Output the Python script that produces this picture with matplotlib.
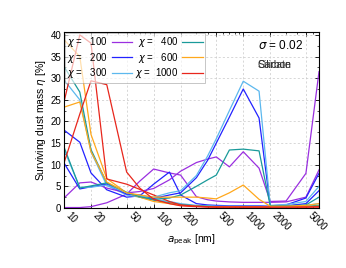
import matplotlib
matplotlib.use('Agg')
import matplotlib.pyplot as plt
from matplotlib.ticker import AutoMinorLocator, FixedLocator, NullFormatter

# grain peak radius [nm]
a_peak = [10, 15, 20, 30, 50, 70, 100, 150, 200, 300, 400, 500, 700, 1000, 1500, 2000, 3000, 5000, 7000]

chi_values = [100, 200, 300, 400, 600, 1000]
colors = ['#9a2fe0', '#2222ff', '#5cb8ee', '#1a9a9a', '#ffa81c', '#e8261c']

# surviving dust mass eta [%], first set
eta_a = [
    [0.1, 0.1, 0.3, 1.2, 3.2, 6.2, 9.0, 8.1, 7.6, 2.6, 1.9, 1.6, 1.4, 1.3, 1.3, 1.3, 1.4, 2.5, 8.8],
    [18.0, 15.2, 8.1, 4.2, 2.5, 2.8, 5.5, 8.3, 3.0, 1.0, 0.7, 0.6, 0.5, 0.5, 0.5, 0.4, 0.5, 1.0, 4.0],
    [29.6, 25.0, 13.0, 5.2, 3.0, 2.5, 2.0, 1.5, 1.0, 0.6, 0.5, 0.4, 0.4, 0.4, 0.4, 0.3, 0.4, 0.6, 1.0],
    [32.7, 26.8, 13.5, 5.8, 3.5, 2.5, 1.8, 1.2, 0.8, 0.5, 0.4, 0.3, 0.3, 0.3, 0.3, 0.3, 0.3, 0.4, 0.6],
    [38.9, 35.0, 17.0, 6.8, 3.5, 2.5, 1.5, 1.0, 0.6, 0.4, 0.3, 0.3, 0.3, 0.3, 0.3, 0.3, 0.3, 0.3, 0.4],
    [24.5, 40.0, 38.1, 6.7, 5.5, 4.3, 3.0, 1.5, 0.7, 0.4, 0.3, 0.2, 0.2, 0.2, 0.2, 0.2, 0.2, 0.2, 0.3],
]

# second set
eta_b = [
    [2.3, 5.8, 6.0, 4.6, 3.5, 3.8, 4.5, 6.5, 8.5, 10.5, 11.3, 11.8, 9.5, 13.0, 9.2, 1.5, 1.6, 8.0, 31.5],
    [10.4, 4.4, 4.9, 5.5, 3.2, 3.0, 2.2, 3.0, 3.5, 7.0, 11.0, 15.0, 21.0, 27.5, 20.8, 0.5, 0.7, 2.3, 8.0],
    [13.5, 4.8, 4.8, 5.3, 3.5, 2.8, 2.5, 3.5, 4.0, 7.5, 12.0, 16.0, 22.5, 29.3, 27.0, 0.6, 0.8, 1.5, 5.0],
    [14.1, 4.6, 5.1, 5.8, 3.6, 2.6, 2.0, 2.3, 3.0, 5.0, 6.5, 7.6, 13.4, 13.6, 13.2, 0.5, 0.5, 0.7, 2.5],
    [23.3, 24.5, 13.0, 6.0, 3.5, 3.0, 2.5, 2.5, 2.5, 2.5, 2.3, 2.1, 3.5, 5.3, 2.0, 0.4, 0.4, 0.6, 1.0],
    [10.4, 21.7, 29.4, 28.5, 8.3, 4.6, 2.0, 1.0, 0.5, 0.3, 0.2, 0.2, 0.2, 0.2, 0.2, 0.2, 0.2, 0.2, 0.2],
]

xticks = [10, 20, 50, 100, 200, 500, 1000, 2000, 5000]

plt.rcParams['font.family'] = ['Liberation Sans', 'DejaVu Sans']
plt.rcParams['mathtext.fontset'] = 'dejavusans'

fig = plt.figure(figsize=(3.46, 2.68), dpi=100)
ax = fig.add_axes([0.185, 0.224, 0.737, 0.657])

handles = []
for chi, col, ya in zip(chi_values, colors, eta_a):
    h, = ax.plot(a_peak, ya, color=col, lw=0.9, label=r'$\chi$ = %5d' % chi)
    handles.append(h)
for col, yb in zip(colors, eta_b):
    ax.plot(a_peak, yb, color=col, lw=0.9)

ax.set_xscale('log')
ax.set_xlim(10, 7000)
ax.set_ylim(0, 40.7)
ax.xaxis.set_major_locator(FixedLocator(xticks))
ax.set_xticklabels([str(t) for t in xticks])
ax.xaxis.set_minor_formatter(NullFormatter())
ax.yaxis.set_major_locator(FixedLocator(range(0, 41, 5)))
ax.yaxis.set_minor_locator(AutoMinorLocator(2))

ax.tick_params(which='both', direction='in', top=True, right=True, labelsize=7, pad=2)
ax.tick_params(which='major', length=3, width=0.6)
ax.tick_params(which='minor', length=1.5, width=0.5)
for lab in ax.get_xticklabels():
    lab.set_rotation(-45)
    lab.set_ha('left')
    lab.set_va('top')

ax.grid(True, which='major', color='#c8c8c8', linestyle=(0, (3, 3)), linewidth=0.5)
for s in ax.spines.values():
    s.set_linewidth(0.8)

ax.set_xlabel(r'$a_\mathrm{peak}$ [nm]', fontsize=7.5, labelpad=0)
ax.set_ylabel(r'Surviving dust mass $\eta$ [%]', fontsize=7.5, labelpad=2)

leg = ax.legend(handles=handles, ncol=2, loc='upper left', markerfirst=False,
                fontsize=7, handlelength=2.1, columnspacing=0.3, handletextpad=0.4,
                labelspacing=0.15, borderpad=0.25, borderaxespad=0.1,
                fancybox=False, framealpha=0.65, edgecolor='#999999')
leg.get_frame().set_linewidth(0.6)

ax.text(0.76, 0.925, r'$\sigma$ = 0.02', transform=ax.transAxes, fontsize=8.5,
        ha='left', va='center')
ax.text(0.76, 0.81, 'Silicate', transform=ax.transAxes, fontsize=7.5,
        ha='left', va='center', color='#333333')
ax.text(0.76, 0.81, 'Carbon', transform=ax.transAxes, fontsize=7.5,
        ha='left', va='center', color='#333333')

fig.savefig('out.png', dpi=100)
